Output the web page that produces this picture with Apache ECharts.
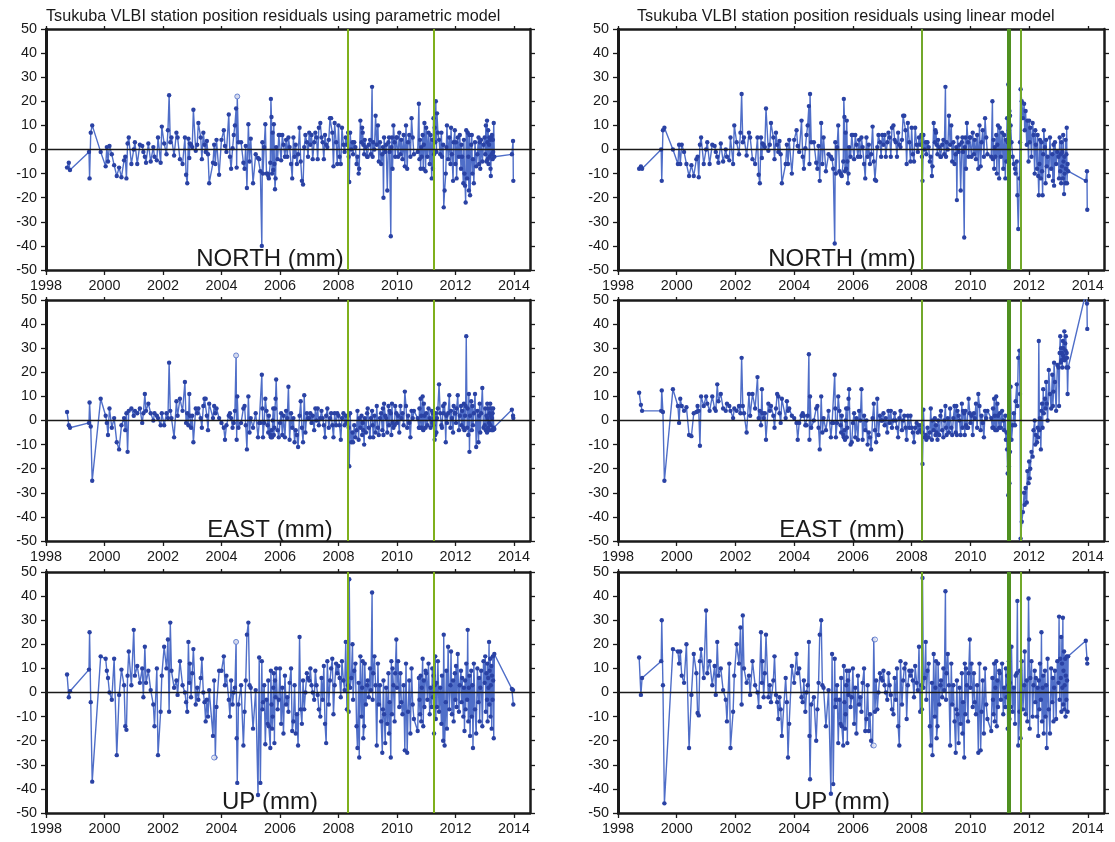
<!DOCTYPE html>
<html><head><meta charset="utf-8">
<style>html,body{margin:0;padding:0;background:#fff}#c{width:1115px;height:842px;filter:blur(.4px)}</style>
<script src="https://cdn.jsdelivr.net/npm/echarts@6/dist/echarts.min.js"></script>
</head><body><div id="c"></div>
<script>
const firstYear = 1998;
const xTicks = [1998,2000,2002,2004,2006,2008,2010,2012,2014];
const sessionHundredths = [
[72,78,82],
[47,49,53,58],
[-13,4,8,12,17,25,33,42,50,58,67,71,75,79,83,92],
[0,4,12,21,29,33,38,42,50,58,67,71,79,83,92,96],
[4,12,17,21,25,29,38,46,50,58,67,75,79,83,87,90,92,96],
[0,4,12,17,21,29,33,38,42,46,50,54,58,71,75,79,83,92],
[0,8,12,17,25,29,33,38,42,46,50,52,54,58,67,75,79,83,87,92,96],
[0,8,17,25,29,33,38,40,42,46,50,54,58,60,62,67,69,71,73,75,77,79,81,83,85,87,92,96],
[0,4,8,12,17,21,25,29,33,38,42,46,50,54,58,62,67,71,75,79,83,87,92,96],
[0,4,8,12,17,21,25,29,33,38,42,46,50,54,58,62,67,71,75,79,83,87,92,96],
[0,4,8,12,17,21,25,29,33,35,37,40,44,48,50,54,58,62,65,69,71,75,79,81,83,85,88,90,94,98],
[0,4,8,11,15,17,19,23,27,31,35,38,42,46,50,52,54,56,60,63,67,71,73,75,79,81,83,85,88,92,94,98],
[0,4,8,12,15,19,23,27,31,35,38,42,46,50,54,58,71,75,77,79,81,83,85,88,90,92,94,98],
[0,4,8,12,15,19,21,23,25,27,29,31,33,35,37,40,44,48,52,54,58,60,63,67,69,71,75,79,83,85,88,92,94,98],
[0,2,4,8,12,15,19,21,23,27,29,31,33,35,37,40,42,44,46,48,50,54,56,58,60,63,67,71,75,79,81,83,85,88,92,96],
[0,2,4,6,8,9,10,12,13,15,16,17,19,20,21,23,24,25,27,28,29,31,33,93,97,98]
];
const northParametric = [
[-7.5,-5.5,-8.5],
[-1,-12,7,10],
[-1,-7,1,-5,1.5,-2,-6.5,-11,-7.5,-11.5,-4.5,-3,-12,2.5,5,-6],
[0,3,-6,2,1.5,-1,-3,-5.5,2.5,-5,1,-3,-4.5,5,-5.5,9.5],
[2.5,-2,8,22.5,3,5,-2.5,7,5,-4,-6,5,-10.5,-14,4.5,-3.5,2.5,2],
[1,16.5,-0.5,2,11,5,-4,7,2,-1,3.5,-2,-14,-5.5,2,-6,4,-10.5],
[4,8,1.5,-1,14.5,-3,-8,0.5,6,10,17,-7.5,22,3,3,-5.5,-8,1.5,-16,10.5,-5],
[4.5,-14,-2,-3.5,-4,-9,-40,3,-10,1,10.5,-10,-10,-11,-12,-5.5,21,13.5,-10,7,-8.5,10.5,-6,-16.5,-12,1,-4,6],
[6,-4.5,6,2,-3,4,-3,5,1,-6,-12,5,-3,2,-6,-2,9,-5,-13,-14.5,1,6,3,-3],
[7,2,6,-4,3,7,5,-4,9,11,5,3,-4,6,2,1,4,13,13,7,-7,11,3,-6],
[10,-3,-6,9,2,-1,5,2,7,-3,-13.5,7,0,3,-2,3,1,-6,-3,-10,-8,12,3,9,7,2,-2,4,1,-3],
[-3,2,4,-2,26,-3,3,0,14,2,10,-5,3,-6,-2,1,-20,5,-1,2,-17,3,5,-1,-36,1,5,-8,10,3,-3,5],
[5,-3,7,-2,4,-4,6,-7,10,-8,3,6,-3,13,5,-2,-1,19,-4,4,-8,1,-3,6,-8,2,11,-9],
[9,-3,7,-6,6,-12,4,-8,13,-2,9,3,20,-1,15,7,4,-2,7,-3,2,-24,-17,-10,1,10,-4,5,-6,9,-2,-13,3,8],
[-6,3,-12,5,-3,6,-8,2,-3,-14,4,-10,-15,-22,8,-12,7,-3,-17,6,-19,2,6,-10,-4,-14,3,-7,-2,5,-6,3,-8,4,-5,2],
[5,-2,10,-5,12,3,-4,8,-6,2,5,-3,4,-8,-11,5,-2,6,-4,4,-1,11,-3,-2,3.5,-13]
];
const eastParametric = [
[3.5,-2,-3],
[-1,7.5,-2.5,-25],
[9,2,-1,-6,5,-3,1,-9,-12,-2,1,-4,3,-13,4,5],
[2,4,3,5,-1,3,11,4,7,3,0,3,2,1,-2,3],
[-2,3,1,24,4,1,-7,8,2,9,4,16,-1,3,-2,11,2,-3],
[2,-9,5,3,5,1,-3,6,9,9,2,-4,7,1,6,3,5,1],
[-1,-3,-8,-2,2,3,1,-3,-1,4,27,-8,10,-3,-1,5,6,-2,-12,10,-5],
[1,-3,3,-7,-1,-1,19,5,-7,-1,9,4,-2,-5,2,-6,-7,-4,-7,0,5,-6,-3,5,9,17,-4,-7],
[-1,3,-6,2,-7,4,1,14,-8,3,-3,1,-9,-4,-6,-11,2,8,-3,-9,10.5,-5,3,1],
[1,3,-1,2,-4,5,0,5,-2,1,4,1,-2,-7,2,5,-3,1,3,-2,-7,3,-2,3],
[2,-2,-8,1,3,-2,2,-1,2,-3,-19,3,-9,-5,-9,-2,-7,-4,4,-8,1,-3,2,-6,-1,-4,-10,1,-5,3],
[5,-3,-7,1,4,-2,-7,2,-5,6,-3,-6,1,3,-4,5,-6,7,2,1,-5,6,-2,4,3,-6,7,-1,-3,-2,6,3],
[-1,2,-5,6,1,3,-2,12,6,-3,2,-1,-7,4,1,4,1,-3,5,-3,9,2,-3,10,-4,7,2,-3],
[3,-2,5,1,-3,4,-1,3,-2,1,-8,-6,3,-5,1,5,15,3,-2,-3,6,3,7,-9,2,-1,3,10.5,-3,4,1,-5,6,3],
[3,-1,5,10.5,-4,2,6,-2,4,-3,7,-4,2,6,35,-3,5,-6,11,-13,2,8,-4,6,-2,3,11,-11,4,-9,2,7,-5,3,13.5,-3],
[-2,5,-4,2,-5,7,1,-3,5,-1,-4,3,7,-2,2,5,-4,1,3,-4,5,-3,-3.5,4.5,2,1]
];
const upParametric = [
[7.5,-2,0.5],
[9.5,25,-4,-37],
[15,14,9,6,0,-3,14,-26,-1,9.5,3,-14,-15.5,7,17,3],
[26,7,11,4,10,-2,19,4,9,1,-5,-14,10,-26,-8,7],
[19,10,22,-8,29,9,2,5,-1,13,3,0,-4,-8,21,4,12,-2],
[8,18,-5,2,-3,6,14,0,-4,-12,-3,-10,1,-18,5,-27,-6,9],
[9,15,3,7,-3,-10,5,-5,0,2,21,-19,-37.5,-5,3,-22,-8,5,24,29,3],
[2,-15,1,-42.5,14.5,-37.5,13,-7,-4,3,-21.5,-3,-13,5,-14,-23,9,-5,-15,-10,2,8,-21,5,-2,10,-7,-3],
[10,-13,2,-17,7,-5,-2,-8,4,10,-16,-12,3,-17,-9,-22,23,-7,-13,5,-7,0,8,6],
[5,10,3,0,-3,9,3,-1,-7,-10,6,-3,11,-13,-21,13,-5,5,10,14,-9,3,12,8],
[11,6,-2,13,5,1,21,-7,3,-8,47,2,6,20,-3,9,12,-14,-23,4,-27,15,-10,2,13,-19,-14,12,-5,3],
[5,-2,10,1,41.5,-3,8,15,3,-22,12,-5,3,-12,-25,-7,5,-9,-21,2,-13,8,-17,-4,-27,13,-9,10,3,-12,8,22],
[2,13,-6,8,-4,-9,3,-24,12,-25,-8,5,-17,10,-5,-11,-16,6,-3,-9,7,-12,2,14,-14,5,-6,9],
[8,-3,12,-9,2,-6,10,-2,7,-17,3,15,-11,4,-6,13,-8,2,-13,7,-20,24,-22,-4,9,-15,19,-7,3,17,-9,5,-12,8],
[-3,11,-6,16,-8,3,9,-4,6,-10,2,-16,5,-7,12,-3,26,-12,2,7,-18,9,-10,3,-23,12,-7,-17,10,-4,6,-12,2,9,-14,13],
[4,15,-8,8,-3,12,-12,6,2,21,-5,9,14,-10,3,11,-15,7,-3,15,5,-19,16,1.5,1,-5]
];
const northLinear = [
[-8,-7,-8],
[0,-13,8,9],
[0,-6,2,-6,2,-1,-6,-11,-6.5,-11,-4,-3,-11.5,2,5,-6],
[0,3,-6,2,1.5,-1,-3,-5.5,2.5,-5,0,-3,-4.5,5,-6,10],
[3,-2,7,23,3,5,-2.5,7,5,-4,-6,5,-10.5,-14,5,-3.5,2.5,2],
[1,17,-0.5,2,11,5,-4,7,2,-1,3.5,-2,-14,-6,2,-6,4,-10],
[4,8,1.5,-1,12,-3,-8,0.5,6,10,18,-6,23,3,3,-5.5,-8,1.5,-13,11,-6],
[5,-9,-2,-3,-4,-8,-39,3,-10,1,10,-9,-10,-10.5,-11,-5,21,13.5,-9,7,-8,12,-5,-14,-10,1,-3,6],
[6,-4,6,2,-3,4,-3,5,1,-6,-12,5,-3,2,-6,-2,9.5,-5,-12.5,-13,1,6,3,-3],
[6,2,6,-3,3,7,5,-3,9,10,4,3,-3,7,2,1,4,14,14,8,-6,11,3,-5],
[9,-2,-5,9,2,-1,5,2,6,-3,-13,6,0,3,-2,3,1,-5,-3,-11,-7,11,3,8,7,2,-2,4,1,-3],
[-3,2,4,-2,26,-3,3,0,14,2,10,-5,3,-6,-2,1,-21,5,-1,2,-17,3,5,-1,-36.5,1,5,-8,11,3,-3,5],
[5,-3,7,-2,4,-4,6,-8,10,-7,3,8,-3,13,5,-2,-3,20,-4,4,-8,1,-3,6,-10,2,10,-12],
[9,-3,7,-8,6,-12,4,-5,13,3,27,8,16,14,10,3,-3,-6,-8,-10,-5,-19,-33,-12,3,25,20,13,19,8,16,2,12,-5],
[12,3,9,-3,11,6,-10,8,2,-8,6,-11,-19,-6,4,-12,3,-9,-19,-2,8,1,-14,4,-7,-3,-11,5,-8,-2,-13,2,-15,3,-6,-1],
[-3,-12,5,-9,-2,-14,3,-7,-1,-12,6,-5,-18.5,-3,-10,-14,4,-8,-2,9,-14,-6,-9,-13,-9,-25]
];
const eastLinear = [
[11.5,6.5,4],
[4,12.5,3.5,-25],
[13,6,-1,9,6,4,5.5,-6,-6.5,3,3.5,6,4,-10.5,10,6],
[10,7,4,10,5,4,15,8,11,5,4,7,6,4,1,5],
[4,6,3,26,6,3,-5,11,2,11,5,18,1,4,-2,13,3,1],
[3,-8,7,4,6,2,-3,5,11,10,3,-1,9,1,8,4,5,2],
[1,-1,-8,-1,2,3,2,-2,-2,2,27.5,-8,10,-3,0,5,6,-3,-12,10,-5],
[1,-4,4,-7,-1,-1,19,5,-7,-1,10,4,-2,-5,2,-6,-7,-4,-8,0,5,-7,-3,5,9,13,-10,-9],
[-1,3,-7,1,-8,4,0,13,-8,2,-4,0,-10,-5,-7,-12,1,7,-4,-9,9,-6,2,0],
[0,3,-2,1,-5,4,-1,4,-3,0,3,0,-3,-7,1,4,-4,0,2,-3,-8,2,-3,2],
[-3,-5,-9,-3,-1,-5,-2,-4,-2,-5,-18,4.5,-7,-6,-8,-3,-7,-5,5,-8,0,-4,1,-6,-2,-5,-8,0,-6,2],
[4,-4,-7,0,6,-3,-6,1,-5,5,-3,-6,1,6,-5,6,-6,4,2,0,-6,7,-3,4,3,-6,4,-2,-3,-3,9,3],
[-1,2,-6,3,1,7,-3,11,6,-4,2,-1,-7,4,1,4,1,-3,5,-3,9,2,-4,10,-4,7,2,-3],
[3,-3,4,0,-4,2,-8,-5,-12,-22,-31,-19,-26,-13,14,-8,-2,3,-2,8,15,6,26,29,11,-49,-42,-38,-30,-35,-28,-34,-21,-26],
[-17,-24,-20,-13,-15,-4,0,-10,-6,-9,-3,-7,33,-4,1,-12,4,7,-3,13,3,9,5,16,7,0,21,11,5,19,6,12,24,16,4,23],
[22,6,28,35,24,30,25,28,22,33,27,30,26,37,25,32,29,35,22,28,26,11,22,53,48.5,38]
];
const upLinear = [
[14.5,-1,6],
[13,30,3,-46],
[18,17,12,17,7,4,20,-23,-1,16,8,-8.5,-9.5,13,18,6],
[34,8,13,3,11,-1,21,7,10,1,-3,-12,12,-23,-8,7],
[20,12,27,-5,32,10,4,7,-1,13,3,0,-6,-6,25,4,13,-2],
[8,24,-2,3,-4,5,15,-1,-4,-11,-2,-7,-18,6,-4,-27,-13,11],
[4,16,8,10,-2,-4,5,-8,0,3,21,-18,-36,-5,-2,-20,-7,4,24,30,3],
[2,-14,1,-42,16,-38,14,-6,-3,3,-21,-3,-13,6,-14,-22,11,-4,-15,-9,3,9,-21,5,-1,9,-6,-2],
[10,-13,2,-17,7,-5,-2,-8,4,10,-16,-11,3,-16,-9,-20,-22,22,-8,5,-7,0,8,6],
[5,9,3,0,-3,8,3,-1,-7,-9,6,-3,10,-14,-22,13,-5,5,10,12,-11,3,9,7],
[9,5,-2,11,4,1,19,-8,3,-7,47.5,2,6,21,-3,9,12,-14,-22,4,-26,16,-10,2,13,-19,-14,12,-5,3],
[5,-2,10,1,42,-3,8,16,3,-22,12,-5,3,-12,-25,-7,5,-9,-21,2,-13,8,-17,-4,-27,12,-9,10,3,-12,8,22],
[2,12,-6,8,-4,-9,3,-25,12,-24,-8,5,-17,10,-5,-11,-16,6,-3,-9,12,-12,2,13,-14,5,-6,9],
[8,-3,12,-9,2,-6,10,-2,7,-15,3,13,-11,4,-6,19,-8,2,-13,7,8,38,-22,-8,9,-19,13,-7,3,17,-9,5,-12,39],
[22,-15,6,13,-10,3,9,-4,6,-10,2,-18,5,-7,12,-3,25,-12,2,7,-17,9,-10,3,-23,14,-7,-17,10,-4,6,-12,2,9,-11,13],
[4,31.5,-3,14,6,23,-8,12,2,31,-5,9,17,-7,3,14,-10,7,-3,15,5,-8,15,21.5,14,12]
];
const earthquakeLeft = [2008.33, 2011.26];
const earthquakeRight = [2008.34, 2011.71];
const earthquakeRightThick = [2011.31];
const openNorthParametric = [[2004.54,22]];
const openEastParametric = [[2004.50,27]];
const openUpParametric = [[2004.50,21],[2003.75,-27]];
const openUpLinear = [[2006.71,-22],[2006.75,22]];
const panelLabels = ['NORTH (mm)','EAST (mm)','UP (mm)'];
const chartTitles = ['Tsukuba VLBI station position residuals using parametric model','Tsukuba VLBI station position residuals using linear model'];

const pts = rows => rows.flatMap((r,i)=>r.map((v,j)=>[firstYear+i+sessionHundredths[i][j]/100,v]));
const panels = [
 {c:0,r:0,d:northParametric,o:openNorthParametric},{c:0,r:1,d:eastParametric,o:openEastParametric},{c:0,r:2,d:upParametric,o:openUpParametric},
 {c:1,r:0,d:northLinear,o:[]},{c:1,r:1,d:eastLinear,o:[]},{c:1,r:2,d:upLinear,o:openUpLinear}
];
const tops=[29,300,572], lefts=[46,618], widths=[484,486], H=241, centers=[270,842], titleX=[46,637];
const LINE='#4f6ec8', DOT='#2a42a4', INK='#1a1a1a';
const grid=[],xAxis=[],yAxis=[],series=[],title=[];
chartTitles.forEach((t,i)=>title.push({text:t,left:titleX[i],top:9,padding:0,textStyle:{fontFamily:'Liberation Sans',fontSize:16.2,fontWeight:'normal',color:INK}}));
panels.forEach((p,i)=>{
  grid.push({left:lefts[p.c],top:tops[p.r],width:widths[p.c],height:H});
  title.push({text:panelLabels[p.r],left:centers[p.c],textAlign:'center',top:tops[p.r]+218,padding:0,textStyle:{fontFamily:'Liberation Sans',fontSize:24,fontWeight:'normal',color:INK}});
  const ax={show:true,onZero:false,lineStyle:{color:INK,width:2.5}};
  const tk={show:true,length:5,lineStyle:{color:INK,width:1.3}};
  xAxis.push({gridIndex:i,type:'value',position:'bottom',min:1998,max:2014.55,splitLine:{show:false},axisLine:ax,
    axisTick:{...tk,customValues:xTicks},axisLabel:{customValues:xTicks,margin:9,formatter:v=>String(v),fontFamily:'Liberation Sans',fontSize:14.4,color:INK}});
  xAxis.push({gridIndex:i,type:'value',position:'top',min:1998,max:2014.55,splitLine:{show:false},axisLine:ax,
    axisTick:{...tk,length:3,customValues:xTicks},axisLabel:{show:false}});
  yAxis.push({gridIndex:i,type:'value',position:'left',min:-50,max:50,interval:10,splitLine:{show:false},axisLine:{...ax,lineStyle:{color:INK,width:3}},
    axisTick:tk,axisLabel:{margin:9,formatter:v=>String(v),fontFamily:'Liberation Sans',fontSize:14.4,color:INK}});
  yAxis.push({gridIndex:i,type:'value',position:'right',min:-50,max:50,interval:10,splitLine:{show:false},axisLine:ax,
    axisTick:tk,axisLabel:{show:false}});
  const xi=i*2,yi=i*2;
  const lines=(vals,color,width)=>vals.map(v=>({xAxis:v,lineStyle:{color,width,type:'solid'}}));
  const greens = p.c===0 ? lines(earthquakeLeft,'#7fb01c',2)
    : [...lines(earthquakeRight,'#72a82a',2),...lines(earthquakeRightThick,'#4f9020',4)];
  series.push({type:'line',xAxisIndex:xi,yAxisIndex:yi,z:3,data:pts(p.d),clip:true,showSymbol:true,showAllSymbol:true,symbol:'circle',symbolSize:4.4,
    animation:false,silent:true,lineStyle:{color:LINE,width:1.4},itemStyle:{color:DOT},
    markLine:{silent:true,animation:false,symbol:'none',label:{show:false},z:4,data:[...greens,{yAxis:0,lineStyle:{color:INK,width:1.3,type:'solid'}}]}});
  if(p.o.length) series.push({type:'scatter',xAxisIndex:xi,yAxisIndex:yi,z:5,data:p.o,symbolSize:5,silent:true,animation:false,itemStyle:{color:'#fff',borderColor:LINE,borderWidth:1}});
});
const chart=echarts.init(document.getElementById('c'),null,{renderer:'canvas'});
chart.setOption({animation:false,backgroundColor:'#fff',title,grid,xAxis,yAxis,series});
</script></body></html>
